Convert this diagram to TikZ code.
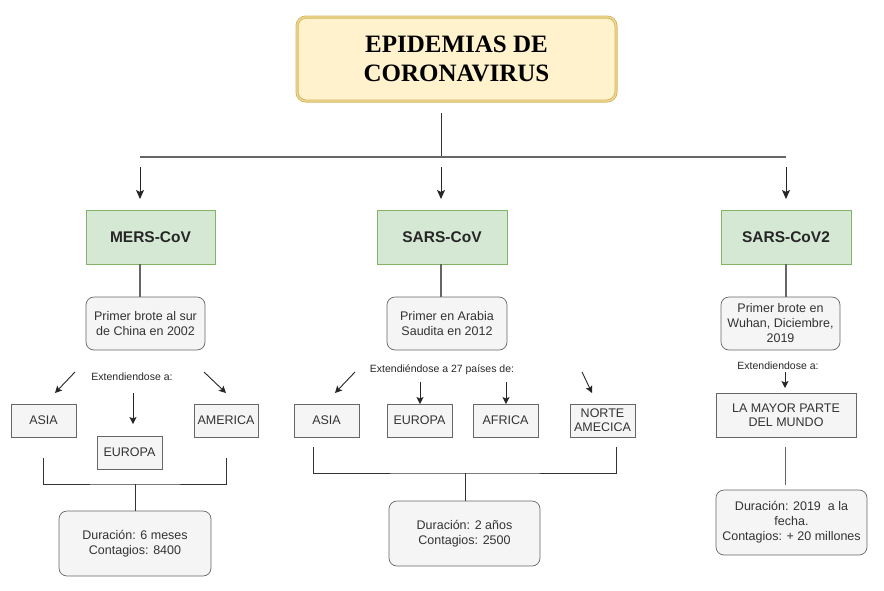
\documentclass[tikz,border=0pt]{standalone}
\usepackage{fontspec}
\setmainfont{Liberation Sans}
\newfontfamily\titlefont{Liberation Serif}
\usetikzlibrary{arrows.meta}
\definecolor{tfill}{HTML}{FFF2CC}
\definecolor{tdraw}{HTML}{D6B656}
\definecolor{gfill}{HTML}{D5E8D4}
\definecolor{gdraw}{HTML}{82B366}
\definecolor{bfill}{HTML}{F5F5F5}
\definecolor{bdraw}{HTML}{666666}
\definecolor{btext}{HTML}{333333}
\tikzset{
  titlebox/.style={draw=tdraw, double=tfill!60!tdraw, double distance=1.2pt, line width=0.9pt, fill=tfill, rounded corners=9pt,
    minimum width=319pt, minimum height=84pt, inner sep=0pt, align=center,
    font=\titlefont\bfseries\fontsize{25}{29}\selectfont},
  greenbox/.style={draw=gdraw, fill=gfill, line width=0.8pt, minimum width=129pt, minimum height=54pt, inner sep=0pt,
    font=\bfseries\fontsize{15.5}{18}\selectfont, text=black!85},
  roundbox/.style={draw=bdraw, fill=bfill, line width=0.7pt, rounded corners=8pt, inner sep=0pt, align=center,
    text=btext, font=\fontsize{12.5}{15}\selectfont},
  sqbox/.style={draw=bdraw, fill=bfill, line width=0.6pt, inner sep=0pt, align=center, minimum height=33pt,
    text=btext, font=\fontsize{12.5}{14}\selectfont},
  lbl/.style={inner sep=0pt, text=black!85, font=\fontsize{10.5}{12}\selectfont},
  glink/.style={draw=bdraw, line width=1.3pt},
  blink/.style={draw=black!80, line width=0.8pt},
  bigarrow/.style={draw=black!85, line width=0.9pt, -{Stealth[length=9pt,width=8pt,inset=2pt]}},
  smallarrow/.style={draw=black!85, line width=0.9pt, -{Stealth[length=7pt,width=7pt,inset=1.5pt]}},
}
\begin{document}
\begin{tikzpicture}[x=1pt,y=-1pt]
\useasboundingbox (0,0) rectangle (884,590);

% title
\node[titlebox] (title) at (456.5,59) {EPIDEMIAS DE\\CORONAVIRUS};

% green boxes
\node[greenbox] (mers) at (150.5,237) {MERS-CoV};
\node[greenbox, minimum width=130pt] (sars) at (442,237) {SARS-CoV};
\node[greenbox, minimum width=130pt] (sars2) at (786,237) {SARS-CoV2};

% first rounded boxes
\node[roundbox, minimum width=119pt, minimum height=53pt] (pb1) at (145.5,323.5) {Primer brote al sur\\de China en 2002};
\node[roundbox, minimum width=120pt, minimum height=53pt] (pb2) at (447,323.5) {Primer en Arabia\\Saudita en 2012};
\node[roundbox, minimum width=119pt, minimum height=53pt] (pb3) at (780.5,323.5) {Primer brote en\\Wuhan, Diciembre,\\2019};

% labels
\node[lbl] (ext1) at (132,377) {Extendiendose a:};
\node[lbl] (ext2) at (442,370) {Extendiéndose a 27 países de:};
\node[lbl] (ext3) at (778,366) {Extendiendose a:};

% region boxes
\node[sqbox, minimum width=65pt] (asia1) at (43.5,420.5) {ASIA};
\node[sqbox, minimum width=64pt] (amer1) at (226,420.5) {AMERICA};
\node[sqbox, minimum width=65pt] (euro1) at (129.5,452.5) {EUROPA};
\node[sqbox, minimum width=65pt] (asia2) at (326.5,420.5) {ASIA};
\node[sqbox, minimum width=65pt] (euro2) at (419.5,420.5) {EUROPA};
\node[sqbox, minimum width=65pt] (afri2) at (505.5,420.5) {AFRICA};
\node[sqbox, minimum width=65pt] (norte2) at (602.5,420.5) {NORTE\\AMECICA};
\node[sqbox, minimum width=140pt, minimum height=44pt] (mayor3) at (786,415) {LA MAYOR PARTE\\DEL MUNDO};

% duration boxes
\node[roundbox, minimum width=152pt, minimum height=65pt] (dur1) at (135,543.5) {Duración: 6 meses\\Contagios: 8400};
\node[roundbox, minimum width=151pt, minimum height=65pt] (dur2) at (464.5,533.5) {Duración: 2 años\\Contagios: 2500};
\node[roundbox, minimum width=151pt, minimum height=65pt] (dur3) at (791.5,522.5) {Duración: 2019\ \ a la\\fecha.\\Contagios: + 20 millones};

% coordinates: top tree
\coordinate (ttop) at (441,113);
\coordinate (hbar) at (441,157);
\coordinate (hl) at (140,157);
\coordinate (hr) at (786,157);
\coordinate (a1s) at (140,167);
\coordinate (a2s) at (441,167);
\coordinate (a3s) at (786,167);
\coordinate (a1e) at (140,199);
\coordinate (a2e) at (441,199);
\coordinate (a3e) at (786,199);
\coordinate (c1) at (140,0);
\coordinate (c2) at (441,0);
\coordinate (c3) at (786,0);

% top tree
\draw[blink] (ttop) -- (hbar);
\draw[glink, line width=1.1pt] (hl) -- (hr);
\draw[bigarrow] (a1s) -- (a1e);
\draw[bigarrow] (a2s) -- (a2e);
\draw[bigarrow] (a3s) -- (a3e);

% green to first boxes
\draw[glink] (mers.south -| c1) -- (pb1.north -| c1);
\draw[glink] (sars.south -| c2) -- (pb2.north -| c2);
\draw[glink] (sars2.south -| c3) -- (pb3.north -| c3);

% spreading arrows MERS
\coordinate (m1s) at (75,372);  \coordinate (m1e) at (55,393);
\coordinate (m2s) at (133,393); \coordinate (m2e) at (133,424);
\coordinate (m3s) at (204,372); \coordinate (m3e) at (226,393);
\draw[smallarrow] (m1s) -- (m1e);
\draw[smallarrow] (m2s) -- (m2e);
\draw[smallarrow] (m3s) -- (m3e);

% spreading arrows SARS
\coordinate (s1s) at (355,372); \coordinate (s1e) at (335,393);
\coordinate (s2s) at (420,382); \coordinate (s2e) at (420,404);
\coordinate (s3s) at (506,382); \coordinate (s3e) at (506,404);
\coordinate (s4s) at (582,372); \coordinate (s4e) at (592,393);
\draw[smallarrow] (s1s) -- (s1e);
\draw[smallarrow] (s2s) -- (s2e);
\draw[smallarrow] (s3s) -- (s3e);
\draw[smallarrow] (s4s) -- (s4e);

% spreading arrow SARS-CoV2
\coordinate (v1s) at (785,372); \coordinate (v1e) at (785,388);
\draw[smallarrow] (v1s) -- (v1e);

% brackets MERS
\coordinate (mb) at (135,484);
\draw[blink] (43,458) |- (mb) -| (226,458);
\draw[blink] (mb) -- (dur1.north -| mb);

% brackets SARS
\coordinate (sb) at (465,473);
\draw[blink] (313,447) |- (sb) -| (616,447);
\draw[blink] (sb) -- (dur2.north -| sb);

% SARS-CoV2 line
\coordinate (vb) at (785,447);
\coordinate (vbe) at (785,485);
\draw[glink, line width=1pt] (vb) -- (vbe);
\end{tikzpicture}
\end{document}
